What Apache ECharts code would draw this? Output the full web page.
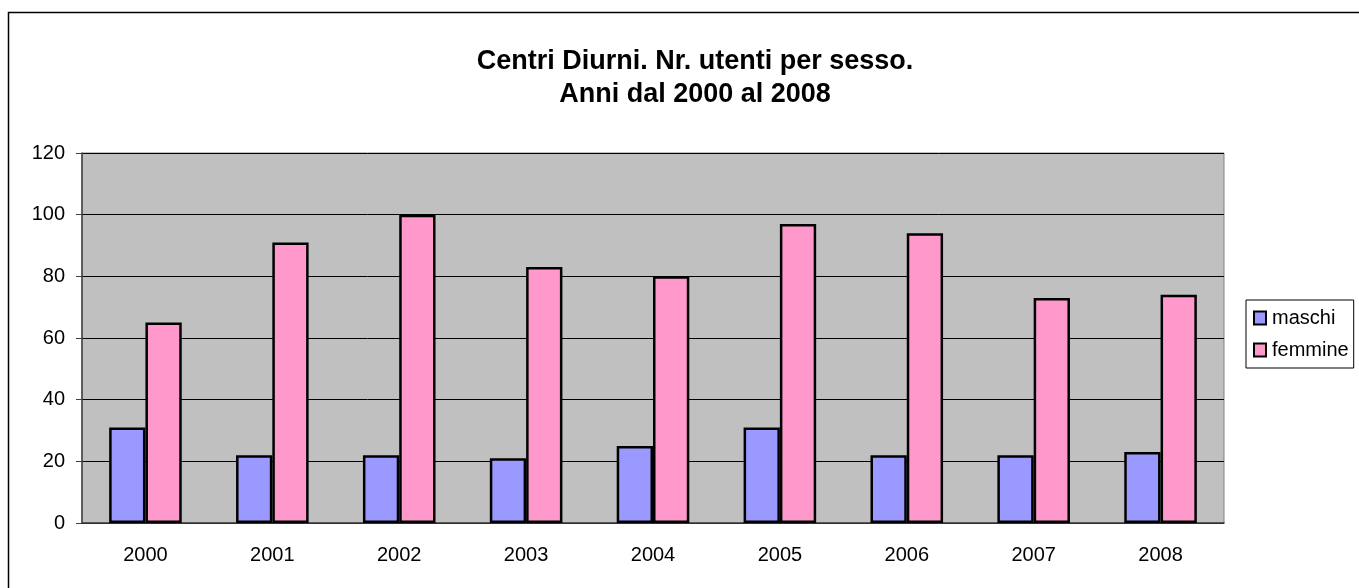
<!DOCTYPE html>
<html>
<head>
<meta charset="utf-8">
<script src="https://cdn.jsdelivr.net/npm/echarts@6/dist/echarts.min.js"></script>
<style>
  html, body { margin: 0; padding: 0; background: #fff; }
  #chart { width: 1359px; height: 588px; }
</style>
</head>
<body>
<div id="chart"></div>
<script>
const years = ['2000', '2001', '2002', '2003', '2004', '2005', '2006', '2007', '2008'];
const maschi = [31, 22, 22, 21, 25, 31, 22, 22, 23];
const femmine = [65, 91, 100, 83, 80, 97, 94, 73, 74];
const yTicks = { min: 0, max: 120, interval: 20 };

const chart = echarts.init(document.getElementById('chart'));
const font = '"Liberation Sans", Arial, sans-serif';

const option = {
  backgroundColor: '#fff',
  animation: false,
  textStyle: { fontFamily: font },
  title: {
    text: 'Centri Diurni. Nr. utenti per sesso.\nAnni dal 2000 al 2008',
    left: 690,
    top: 40,
    textAlign: 'center',
    textStyle: {
      fontFamily: font,
      fontSize: 27,
      fontWeight: 'bold',
      color: '#000',
      lineHeight: 33
    }
  },
  legend: {
    orient: 'vertical',
    left: 1246,
    top: 300,
    padding: [8, 5, 8, 7],
    itemGap: 12,
    itemWidth: 12,
    itemHeight: 13,
    borderColor: '#000',
    borderWidth: 1,
    backgroundColor: '#fff',
    icon: 'rect',
    itemStyle: { borderColor: '#000', borderWidth: 2 },
    textStyle: { fontFamily: font, fontSize: 20, color: '#000', padding: [0, 0, 0, 1] },
    data: ['maschi', 'femmine']
  },
  grid: {
    left: 82,
    right: 135,
    top: 153,
    bottom: 65,
    show: true,
    backgroundColor: '#C0C0C0',
    borderColor: '#808080',
    borderWidth: 1
  },
  xAxis: {
    type: 'category',
    data: years,
    axisLine: { lineStyle: { color: '#404040', width: 1.5 } },
    axisTick: { length: 6, lineStyle: { color: '#404040' } },
    axisLabel: { fontFamily: font, fontSize: 20, color: '#000', margin: 22 },
    splitLine: { show: false }
  },
  yAxis: {
    type: 'value',
    min: yTicks.min,
    max: yTicks.max,
    interval: yTicks.interval,
    axisLine: { show: true, lineStyle: { color: '#404040', width: 1.5 } },
    axisTick: { show: true, length: 6, lineStyle: { color: '#404040' } },
    axisLabel: { fontFamily: font, fontSize: 20, color: '#000', margin: 17 },
    splitLine: { lineStyle: { color: '#000', width: 1 } }
  },
  series: [
    {
      name: 'maschi',
      type: 'bar',
      data: maschi,
      barWidth: '28.6%',
      barGap: '0%',
      itemStyle: { color: '#9999FF', borderColor: '#000', borderWidth: 2.5 }
    },
    {
      name: 'femmine',
      type: 'bar',
      data: femmine,
      barWidth: '28.6%',
      barGap: '0%',
      itemStyle: { color: '#FF99CC', borderColor: '#000', borderWidth: 2.5 }
    }
  ],
  graphic: [
    {
      type: 'rect',
      silent: true,
      z: 100,
      shape: { x: 8.5, y: 12.5, width: 1400, height: 620 },
      style: { fill: 'none', stroke: '#000', lineWidth: 1.5 }
    }
  ]
};

chart.setOption(option);
</script>
</body>
</html>
